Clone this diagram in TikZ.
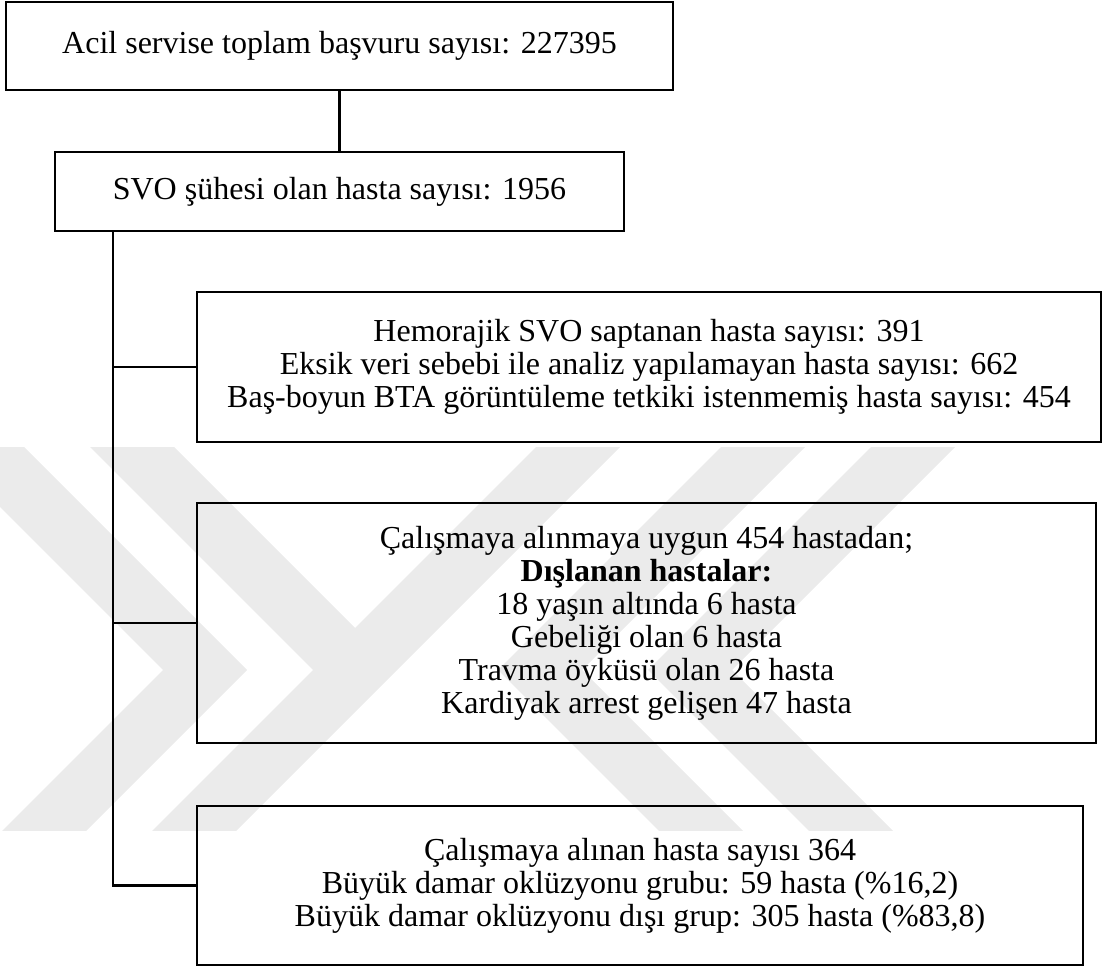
\documentclass[tikz,border=0pt]{standalone}
\usepackage{fontspec}
\setmainfont{Liberation Serif}
\begin{document}
\begin{tikzpicture}[x=0.5pt,y=-0.5pt,
  box/.style={draw=black, line width=1.3pt, align=center, inner sep=0pt,
    font=\fontsize{16}{16.5}\selectfont},
  wire/.style={draw=black, line width=1.3pt},
  wm/.style={fill=black!8}]
\useasboundingbox (0,0) rectangle (1103,967);
% watermark
\begin{scope}
\clip (0,448) rectangle (1103,830);
\def\h{42}
\fill[wm] (-25-\h,440) -- (205-\h,670) -- (35-\h,840) -- (35+\h,840) -- (205+\h,670) -- (-25+\h,440) -- cycle;
\fill[wm] (125-\h,440) -- (355-\h,670) -- (185-\h,840) -- (185+\h,840) -- (355+\h,670) -- (125+\h,440) -- cycle;
\fill[wm] (585-\h,440) -- (355-\h,670) -- (355+\h,670) -- (585+\h,440) -- cycle;
\fill[wm] (920+\h,440) -- (690+\h,670) -- (860+\h,840) -- (860-\h,840) -- (690-\h,670) -- (920-\h,440) -- cycle;
\fill[wm] (770+\h,440) -- (540+\h,670) -- (710+\h,840) -- (710-\h,840) -- (540-\h,670) -- (770-\h,440) -- cycle;
\end{scope}
% boxes
\node[box, minimum width=333.5pt, minimum height=44pt] (b1) at (339.5,46)
  {Acil servise toplam başvuru sayısı: 227395};
\node[box, minimum width=284.5pt, minimum height=39.5pt] (b2) at (339.5,191.5)
  {SVO şühesi olan hasta sayısı: 1956};
\node[box, minimum width=452pt, minimum height=75pt] (b3) at (649,367)
  {Hemorajik SVO saptanan hasta sayısı: 391\\
   Eksik veri sebebi ile analiz yapılamayan hasta sayısı: 662\\
   Baş-boyun BTA görüntüleme tetkiki istenmemiş hasta sayısı: 454};
\node[box, minimum width=449.5pt, minimum height=120pt] (b4) at (646.5,623)
  {Çalışmaya alınmaya uygun 454 hastadan;\\
   \textbf{Dışlanan hastalar:}\\
   18 yaşın altında 6 hasta\\
   Gebeliği olan 6 hasta\\
   Travma öyküsü olan 26 hasta\\
   Kardiyak arrest gelişen 47 hasta};
\node[box, minimum width=443pt, minimum height=79.5pt] (b5) at (640,885.5)
  {Çalışmaya alınan hasta sayısı 364\\
   Büyük damar oklüzyonu grubu: 59 hasta (\%16,2)\\
   Büyük damar oklüzyonu dışı grup: 305 hasta (\%83,8)};
% connectors
\coordinate (trunk) at (113,231);
\draw[wire] (b1.south) -- (b2.north);
\draw[wire] (trunk) |- (b5.west);
\draw[wire] (b3.west) -- (b3.west -| trunk);
\draw[wire] (b4.west) -- (b4.west -| trunk);
\end{tikzpicture}
\end{document}
